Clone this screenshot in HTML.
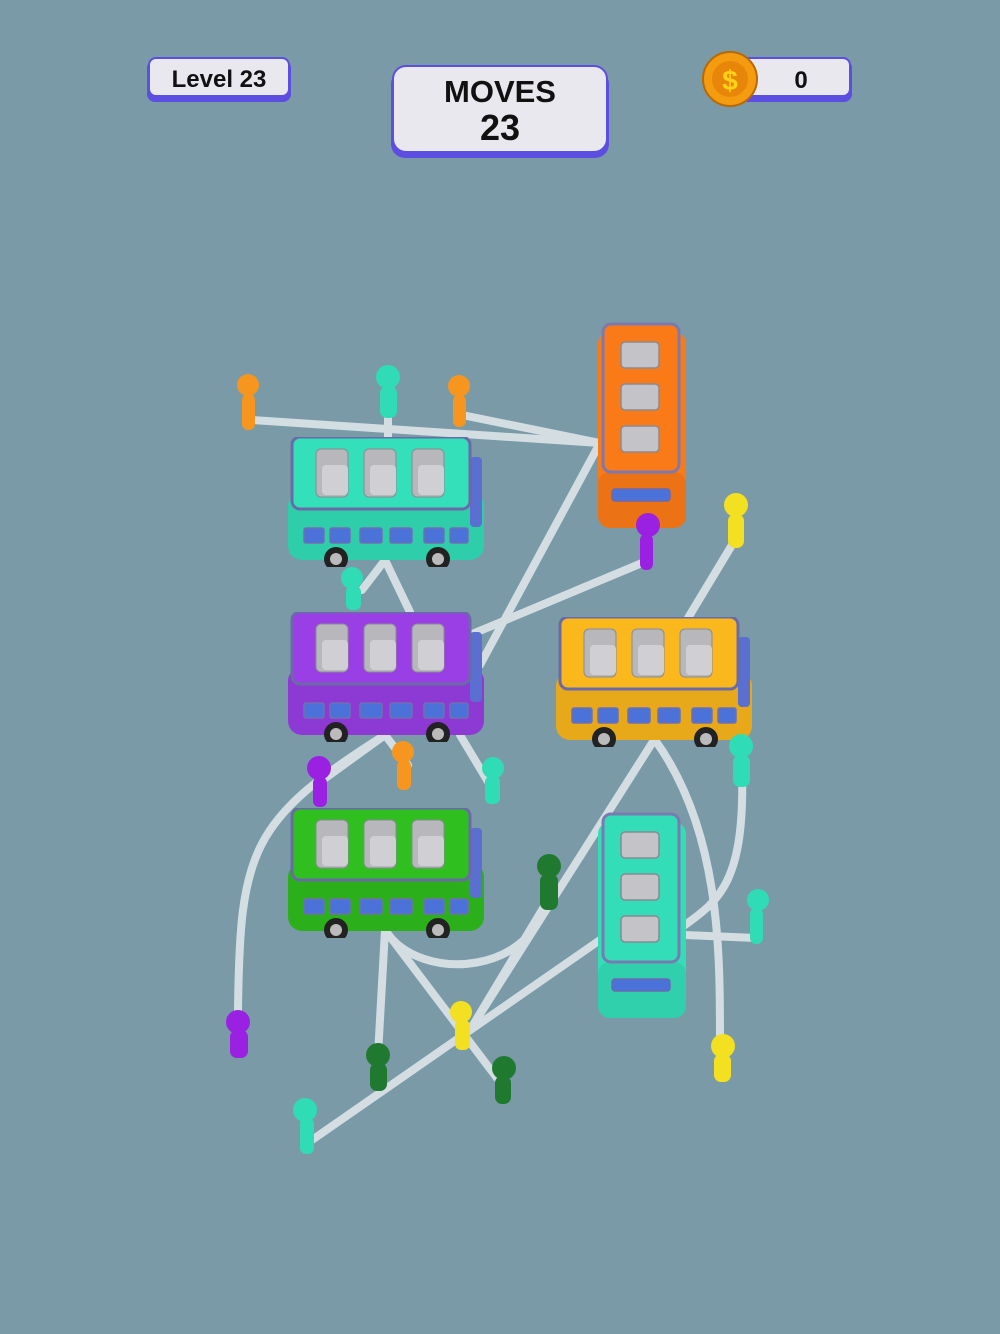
<!DOCTYPE html>
<html><head><meta charset="utf-8"><style>
html,body{margin:0;padding:0;background:#7a9aa8;}
svg{display:block}
text{font-family:"Liberation Sans",sans-serif;font-weight:bold;}
</style></head><body>
<svg width="1000" height="1334" viewBox="0 0 1000 1334" xmlns="http://www.w3.org/2000/svg">
<defs>
<symbol id="hbus" viewBox="0 0 196 130" width="196" height="130">
  <rect x="0" y="55" width="196" height="68" rx="14" fill="currentColor"/>
  <rect x="0" y="55" width="196" height="68" rx="14" fill="#000" opacity="0.08"/>
  <rect x="182" y="20" width="12" height="70" rx="4" fill="#5a6fd0"/>
  <rect x="4" y="0" width="178" height="72" rx="8" fill="currentColor" stroke="#6a6aa8" stroke-width="3"/>
  <g fill="#b8b8bc" stroke="#8a8a94" stroke-width="1">
    <rect x="28" y="12" width="32" height="48" rx="5"/><rect x="76" y="12" width="32" height="48" rx="5"/><rect x="124" y="12" width="32" height="48" rx="5"/>
  </g>
  <g fill="#d0d0d4">
    <rect x="34" y="28" width="26" height="30" rx="4"/><rect x="82" y="28" width="26" height="30" rx="4"/><rect x="130" y="28" width="26" height="30" rx="4"/>
  </g>
  <g fill="#4a72d8" stroke="#7070b0" stroke-width="1.5">
    <rect x="16" y="91" width="20" height="15" rx="2"/><rect x="42" y="91" width="20" height="15" rx="2"/><rect x="72" y="91" width="22" height="15" rx="2"/><rect x="102" y="91" width="22" height="15" rx="2"/><rect x="136" y="91" width="20" height="15" rx="2"/><rect x="162" y="91" width="18" height="15" rx="2"/>
  </g>
  <circle cx="48" cy="122" r="12" fill="#222"/><circle cx="48" cy="122" r="6" fill="#bbb"/>
  <circle cx="150" cy="122" r="12" fill="#222"/><circle cx="150" cy="122" r="6" fill="#bbb"/>
</symbol>
<symbol id="vbus" viewBox="0 0 88 206" width="88" height="206">
  <rect x="0" y="10" width="88" height="196" rx="12" fill="currentColor"/>
  <rect x="0" y="150" width="88" height="56" rx="12" fill="#000" opacity="0.06"/>
  <rect x="5" y="2" width="76" height="148" rx="8" fill="currentColor" stroke="#7a7ab0" stroke-width="3"/>
  <g fill="#c4c4c8" stroke="#8a8a94" stroke-width="1.5">
    <rect x="23" y="20" width="38" height="26" rx="4"/><rect x="23" y="62" width="38" height="26" rx="4"/><rect x="23" y="104" width="38" height="26" rx="4"/>
  </g>
  <rect x="14" y="167" width="58" height="12" rx="3" fill="#4a72d8" stroke="#6a6ab0" stroke-width="1.5"/>
</symbol>
</defs>

<!-- Header -->
<rect x="147" y="60" width="144" height="42" rx="8" fill="#5c4ee0"/>
<rect x="149" y="58" width="140" height="38" rx="7" fill="#e8e8ee" stroke="#5c4ee0" stroke-width="2"/>
<text x="219" y="87" font-size="24" text-anchor="middle" fill="#111">Level 23</text>
<rect x="391" y="70" width="218" height="88" rx="14" fill="#5c4ee0"/>
<rect x="393" y="66" width="214" height="86" rx="13" fill="#e8e8ee" stroke="#5c4ee0" stroke-width="2"/>
<text x="500" y="102" font-size="31" text-anchor="middle" fill="#111">MOVES</text>
<text x="500" y="140" font-size="36" text-anchor="middle" fill="#111">23</text>
<rect x="730" y="60" width="122" height="42" rx="8" fill="#5c4ee0"/>
<rect x="732" y="58" width="118" height="38" rx="7" fill="#e8e8ee" stroke="#5c4ee0" stroke-width="2"/>
<text x="801" y="88" font-size="24" text-anchor="middle" fill="#111">0</text>
<circle cx="730" cy="79" r="27" fill="#f59b10" stroke="#b86a00" stroke-width="2"/>
<circle cx="730" cy="79" r="18" fill="#e8860a"/>
<text x="730" y="90" font-size="28" text-anchor="middle" fill="#ffd21a">$</text>

<!-- Lines -->
<g stroke="#dde5e9" stroke-width="8" fill="none" stroke-linecap="round" opacity="0.9">
<path d="M252,420 L600,443"/>
<path d="M388,408 L388,442"/>
<path d="M462,415 L600,443"/>
<path d="M600,443 L480,665"/>
<path d="M470,635 L642,563"/>
<path d="M735,540 L688,618"/>
<path d="M362,590 L385,560 M410,612 L385,560"/>
<path d="M385,735 L320,782"/>
<path d="M385,735 C 250,820 240,850 238,1010"/>
<path d="M385,735 L408,765"/>
<path d="M460,735 L490,785"/>
<path d="M654,740 L470,1030"/>
<path d="M655,740 C 720,830 720,950 720,1040"/>
<path d="M742,770 C 745,880 720,900 685,925"/>
<path d="M685,935 L756,938"/>
<path d="M385,930 L378,1055"/>
<path d="M385,930 L500,1082"/>
<path d="M385,930 C 420,985 540,975 548,890"/>
<path d="M548,900 L470,1030"/>
<path d="M600,940 L312,1140"/>
</g>

<!-- Buses -->
<use href="#hbus" x="288" y="437" color="#33e0ba"/>
<use href="#hbus" x="288" y="612" color="#9a3fe6"/>
<use href="#hbus" x="288" y="808" color="#2fbf1e"/>
<use href="#hbus" x="556" y="617" color="#fbb81c"/>
<use href="#vbus" x="598" y="322" color="#fb7a18"/>
<use href="#vbus" x="598" y="812" color="#33ddb8"/>

<!-- People -->
<g>
<g fill="#f7961e"><circle cx="248" cy="385" r="11"/><rect x="242" y="394" width="13" height="36" rx="6"/>
<circle cx="459" cy="386" r="11"/><rect x="453" y="395" width="13" height="32" rx="6"/>
<circle cx="403" cy="752" r="11"/><rect x="397" y="760" width="14" height="30" rx="6"/></g>
<g fill="#30dcb6"><circle cx="388" cy="377" r="12"/><rect x="380" y="386" width="17" height="32" rx="7"/>
<circle cx="352" cy="578" r="11"/><rect x="346" y="586" width="15" height="24" rx="6"/>
<circle cx="493" cy="768" r="11"/><rect x="485" y="776" width="15" height="28" rx="6"/>
<circle cx="741" cy="746" r="12"/><rect x="733" y="755" width="17" height="32" rx="7"/>
<circle cx="758" cy="900" r="11"/><rect x="750" y="908" width="13" height="36" rx="6"/>
<circle cx="305" cy="1110" r="12"/><rect x="300" y="1118" width="14" height="36" rx="6"/></g>
<g fill="#f3e020"><circle cx="736" cy="505" r="12"/><rect x="728" y="514" width="16" height="34" rx="7"/>
<circle cx="461" cy="1012" r="11"/><rect x="455" y="1020" width="15" height="30" rx="6"/>
<circle cx="723" cy="1046" r="12"/><rect x="714" y="1054" width="17" height="28" rx="7"/></g>
<g fill="#9a20e2"><circle cx="648" cy="525" r="12"/><rect x="640" y="534" width="13" height="36" rx="6"/>
<circle cx="319" cy="768" r="12"/><rect x="313" y="777" width="14" height="30" rx="6"/>
<circle cx="238" cy="1022" r="12"/><rect x="230" y="1030" width="18" height="28" rx="7"/></g>
<g fill="#1f7a30"><circle cx="549" cy="866" r="12"/><rect x="540" y="874" width="18" height="36" rx="7"/>
<circle cx="378" cy="1055" r="12"/><rect x="370" y="1063" width="17" height="28" rx="7"/>
<circle cx="504" cy="1068" r="12"/><rect x="495" y="1076" width="16" height="28" rx="7"/></g>
</g>
</svg>
</body></html>
